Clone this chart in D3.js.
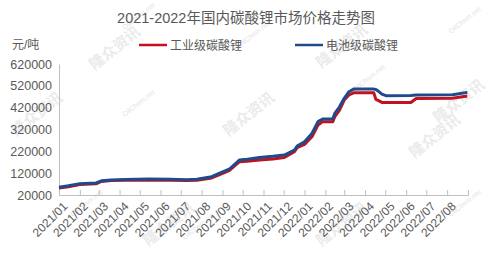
<!DOCTYPE html>
<html>
<head>
<meta charset="utf-8">
<script src="https://cdn.jsdelivr.net/npm/d3@7"></script>
<style>
  body { margin: 0; background: #fff; }
  text { font-family: "Liberation Sans", "Noto Sans CJK SC", sans-serif; }
</style>
</head>
<body>
<svg id="chart" width="492" height="257"></svg>
<script>
// months shown on the category axis
const months = ["2021/01","2021/02","2021/03","2021/04","2021/05","2021/06","2021/07","2021/08","2021/09","2021/10",
  "2021/11","2021/12","2022/01","2022/02","2022/03","2022/04","2022/05","2022/06","2022/07","2022/08"];
const yTicks = [20000, 120000, 220000, 320000, 420000, 520000, 620000];

// price sample dates
const dates = ["2021-01-01","2021-01-15","2021-02-01","2021-02-25","2021-03-05","2021-03-20","2021-04-10","2021-05-15",
  "2021-06-15","2021-07-10","2021-07-25","2021-08-16","2021-08-27","2021-09-11","2021-09-26","2021-10-08","2021-10-26",
  "2021-11-15","2021-12-02","2021-12-17","2021-12-21","2022-01-01","2022-01-12","2022-01-21","2022-01-28","2022-02-12",
  "2022-02-15","2022-02-22","2022-03-01","2022-03-08","2022-03-15","2022-04-14","2022-04-17","2022-04-21","2022-04-26",
  "2022-05-02","2022-06-08","2022-06-16","2022-08-09","2022-08-31"];
const industrial = [52000,58000,68000,71000,82000,86000,88000,88000,87000,86000,87000,98000,112000,132000,172000,175000,180000,
  185000,192000,218000,237000,252000,287000,340000,356000,356000,379000,409000,455000,478000,488000,488000,458000,452000,444000,
  444000,444000,462000,463000,473000];
const battery = [56000,62000,72000,75000,85000,89000,91000,93000,92000,90000,92000,104000,119000,138000,180000,184000,192000,
  197000,203000,226000,244000,264000,302000,356000,368000,368000,394000,424000,463000,493000,505000,505000,503000,495000,482000,
  475000,476000,478000,479000,490000];

const seriesNames = ["工业级碳酸锂", "电池级碳酸锂"];
const seriesColors = ["#c0121f", "#1f4a8c"];

const svg = d3.select("#chart");
const plotLeft = 59, plotRight = 468, plotTop = 64, plotBottom = 195;
const grey = "#595959";

const parse = d3.timeParse("%Y-%m-%d");
const x = d3.scaleTime().domain([new Date(2021, 0, 1), new Date(2022, 8, 1)]).range([plotLeft, plotRight]);
const xBand = d3.scaleBand().domain(months).range([plotLeft, plotRight]);
const y = d3.scaleLinear().domain([20000, 620000]).range([plotBottom, plotTop]);

// watermarks
const marks = [[40, 118], [118, 52], [345, 50], [252, 118], [438, 140], [172, 228], [345, 228], [462, 105]];
svg.selectAll("text.wm").data(marks).enter().append("text")
  .attr("class", "wm")
  .attr("transform", d => `translate(${d[0]},${d[1]}) rotate(-38)`)
  .attr("text-anchor", "middle")
  .attr("font-size", "15px").attr("font-weight", "bold")
  .attr("fill", "#ebebeb")
  .text("隆众资讯");
const marks2 = [[140, 18], [140, 105], [255, 36], [370, 80], [466, 22], [200, 228], [466, 205], [88, 205]];
svg.selectAll("text.wm2").data(marks2).enter().append("text")
  .attr("class", "wm2")
  .attr("transform", d => `translate(${d[0]},${d[1]}) rotate(-38)`)
  .attr("text-anchor", "middle")
  .attr("font-size", "7px").attr("font-family", "Liberation Serif")
  .attr("fill", "#e4e4e4")
  .text("OilChem.net");

// title
svg.append("text")
  .attr("x", 246).attr("y", 23)
  .attr("text-anchor", "middle")
  .attr("font-size", "14.5px").attr("fill", grey)
  .text("2021-2022年国内碳酸锂市场价格走势图");

svg.append("text")
  .attr("x", 12).attr("y", 49)
  .attr("font-size", "12px").attr("fill", grey)
  .text("元/吨");

// legend
const legend = svg.selectAll("g.legend").data(seriesNames).enter().append("g")
  .attr("class", "legend")
  .attr("transform", (d, i) => `translate(${i === 0 ? 139 : 295},45)`);
legend.append("line")
  .attr("x1", 0).attr("x2", 28).attr("y1", 0).attr("y2", 0)
  .attr("stroke", (d, i) => seriesColors[i]).attr("stroke-width", 2.5);
legend.append("text")
  .attr("x", 31).attr("y", 5)
  .attr("font-size", "12px").attr("fill", grey)
  .text(d => d);

// y axis
const yAxis = svg.append("g")
  .attr("transform", `translate(${plotLeft},0)`)
  .call(d3.axisLeft(y).tickValues(yTicks).tickSize(0).tickPadding(7).tickFormat(d3.format("d")));
yAxis.select(".domain").attr("stroke", "#bfbfbf");
yAxis.selectAll("text").attr("font-size", "12.5px").attr("fill", grey)
  .attr("font-family", "Liberation Sans");

// x axis: inside ticks at month boundaries
const xAxis = svg.append("g")
  .attr("transform", `translate(0,${plotBottom})`)
  .call(d3.axisBottom(x).ticks(d3.timeMonth.every(1)).tickSize(-5).tickFormat(""));
xAxis.select(".domain").attr("stroke", "#bfbfbf");
xAxis.selectAll(".tick line").attr("stroke", "#bfbfbf");

svg.append("g").selectAll("text").data(months).enter().append("text")
  .attr("transform", d => `translate(${xBand(d) + xBand.bandwidth() / 2 - 4},${plotBottom + 9}) rotate(-45)`)
  .attr("text-anchor", "end")
  .attr("dy", "0.35em")
  .attr("font-size", "12px").attr("fill", grey)
  .text(d => d);

// lines
const line = d3.line()
  .x((d, i) => x(parse(dates[i])))
  .y(d => y(d));

[industrial, battery].forEach((s, k) => {
  svg.append("path")
    .datum(s)
    .attr("fill", "none")
    .attr("stroke", seriesColors[k])
    .attr("stroke-width", 3)
    .attr("stroke-linejoin", "round")
    .attr("d", line);
});
</script>
</body>
</html>
